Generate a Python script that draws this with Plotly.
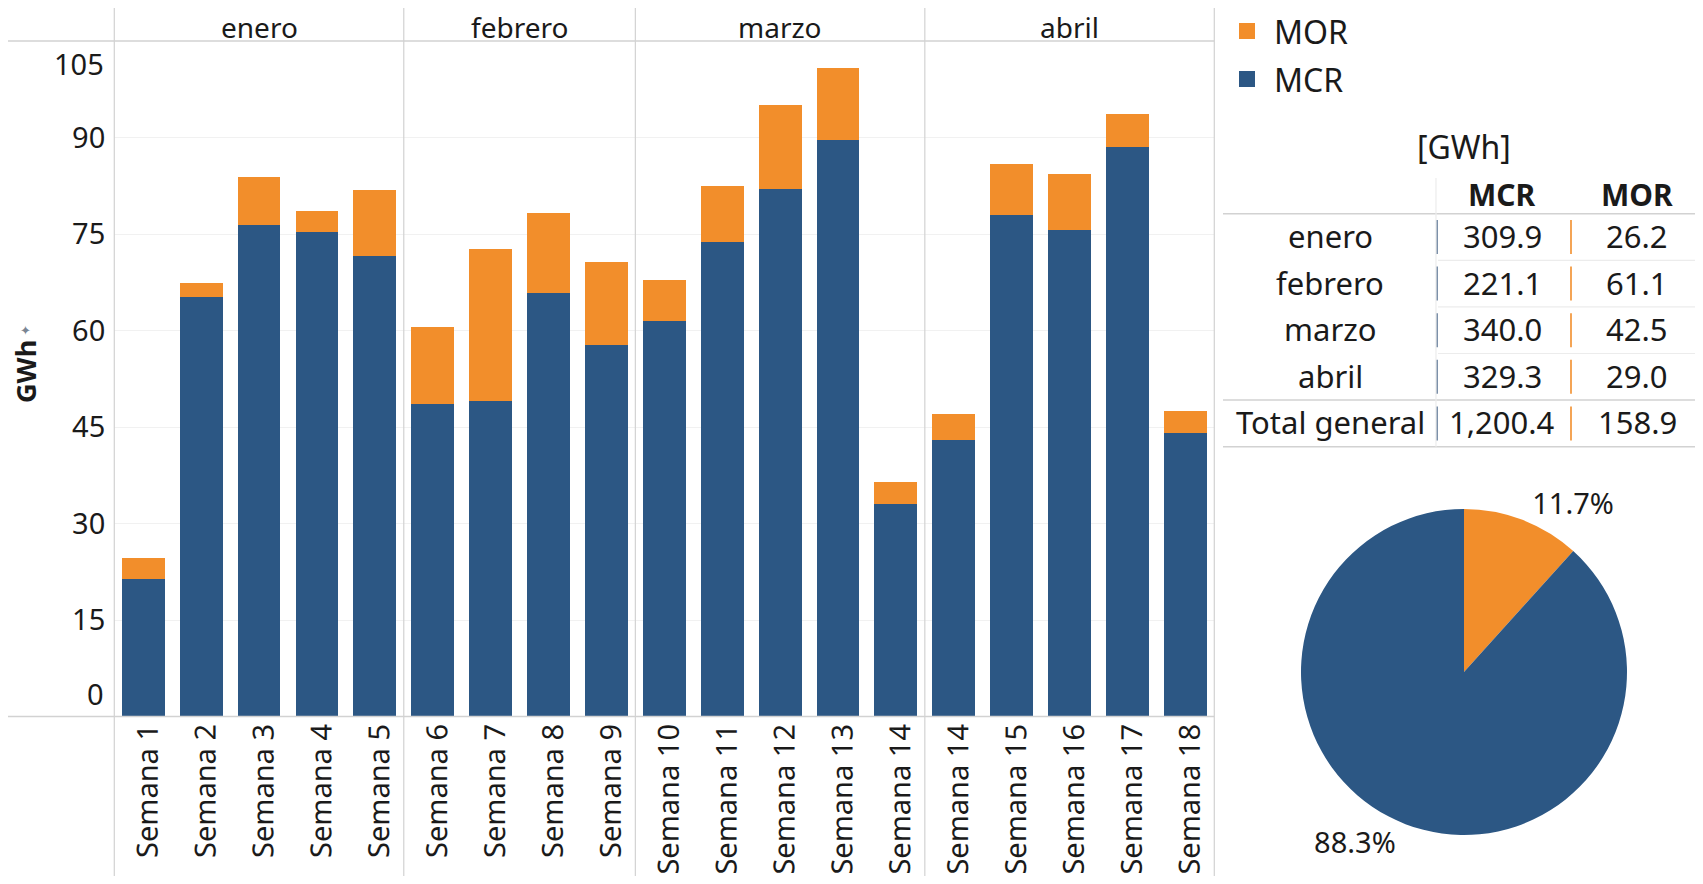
import plotly.graph_objects as go

# ---------------- data ----------------
months = ["enero", "febrero", "marzo", "abril"]
weeks = ["Semana 1", "Semana 2", "Semana 3", "Semana 4", "Semana 5",
         "Semana 6", "Semana 7", "Semana 8", "Semana 9",
         "Semana 10", "Semana 11", "Semana 12", "Semana 13", "Semana 14",
         "Semana 14", "Semana 15", "Semana 16", "Semana 17", "Semana 18"]
weeks_per_month = [5, 4, 5, 5]
mcr = [21.4, 65.2, 76.4, 75.3, 71.6,
       48.5, 49.0, 65.8, 57.8,
       61.5, 73.8, 82.0, 89.6, 33.1,
       43.0, 77.9, 75.7, 88.6, 44.1]
mor = [3.2, 2.2, 7.4, 3.2, 10.2,
       12.1, 23.6, 12.5, 12.9,
       6.3, 8.6, 13.0, 11.2, 3.4,
       4.0, 8.0, 8.6, 5.0, 3.4]
y_ticks = [0, 15, 30, 45, 60, 75, 90, 105]

table_mcr = [309.9, 221.1, 340.0, 329.3]
table_mor = [26.2, 61.1, 42.5, 29.0]
total_mcr = 1200.4
total_mor = 158.9

series_names = ["MOR", "MCR"]          # legend order (top to bottom)

# ---------------- style ----------------
PAGE_W, PAGE_H = 1703, 884
OFF = 8  # page body margin
W, H = PAGE_W - 2 * OFF, PAGE_H - 2 * OFF   # figure fits the window exactly
BLUE = "#2c5784"
ORANGE = "#f28e2b"
COLORS = {"MOR": ORANGE, "MCR": BLUE}
FONT = "Noto Sans"
TXT = "#1a1a1a"
LINE = "#d2d2d2"
LIGHT = "#ececec"


def px(xp):
    """page x pixel -> paper fraction"""
    return (xp - OFF) / W


def py(yp):
    """page y pixel -> paper fraction"""
    return 1 - (yp - OFF) / H


def note(x, y, text, size, **kw):
    d = dict(x=x, y=y, xref="paper", yref="paper", text=text, showarrow=False,
             xanchor="center", yanchor="middle",
             font=dict(size=size, family=FONT, color=TXT))
    d.update(kw)
    return d


x_idx = list(range(len(weeks)))

fig = go.Figure()
fig.add_trace(go.Bar(x=x_idx, y=mcr, name="MCR", marker=dict(color=BLUE, line=dict(width=0)),
                     width=0.74, showlegend=False))
fig.add_trace(go.Bar(x=x_idx, y=mor, name="MOR", marker=dict(color=ORANGE, line=dict(width=0)),
                     width=0.74, showlegend=False))

fig.add_trace(go.Pie(values=[total_mor, total_mcr], labels=["MOR", "MCR"],
                     marker=dict(colors=[ORANGE, BLUE], line=dict(width=0)),
                     sort=False, direction="clockwise", rotation=0,
                     textposition="outside", texttemplate="%{percent:.1%}",
                     textfont=dict(size=29, color=TXT, family=FONT),
                     showlegend=False, hoverinfo="label+value+percent",
                     domain=dict(x=[px(1301), px(1627)], y=[py(835), py(509)])))

shapes = []
annotations = []

# ---------------- legend (drawn) ----------------
leg_y0, leg_dy = 31, 48
for k, name in enumerate(series_names):
    yc = leg_y0 + k * leg_dy
    shapes.append(dict(type="rect", xref="paper", yref="paper",
                       x0=px(1239), x1=px(1255), y0=py(yc - 8), y1=py(yc + 8),
                       fillcolor=COLORS[name], line=dict(width=0)))
    annotations.append(note(px(1272), py(yc), name, 32, xanchor="left"))

# plot-area frame lines
top_px, header_px, base_px = 6, 41, 716.5
left_px, right_px = 114.3, 1214.3
for yy in (header_px, base_px):
    shapes.append(dict(type="line", xref="paper", yref="paper", x0=px(8), x1=px(right_px),
                       y0=py(yy), y1=py(yy), line=dict(color=LINE, width=1.5)))
for xp_ in (left_px, right_px):
    shapes.append(dict(type="line", xref="paper", yref="paper", x0=px(xp_), x1=px(xp_),
                       y0=-0.05, y1=py(top_px), line=dict(color=LINE, width=1.2)))

# month dividers and headers
start = 0
for i, (m, n) in enumerate(zip(months, weeks_per_month)):
    center = start + (n - 1) / 2
    annotations.append(dict(x=center, y=py(27), xref="x", yref="paper", text=m,
                            showarrow=False, font=dict(size=28, family=FONT, color=TXT),
                            xanchor="center", yanchor="middle", borderpad=0))
    if i > 0:
        shapes.append(dict(type="line", xref="x", yref="paper", x0=start - 0.5, x1=start - 0.5,
                           y0=-0.05, y1=py(top_px), line=dict(color=LINE, width=1.2)))
    start += n

# y tick labels for the two edge ticks (shifted inward like the original)
for v in (y_ticks[0], y_ticks[-1]):
    annotations.append(dict(x=px(106), y=v, xref="paper", yref="y", text=str(v),
                            showarrow=False, xanchor="right", yanchor="middle",
                            yshift=23 if v == y_ticks[0] else -22,
                            font=dict(size=29, family=FONT, color=TXT)))

# y axis title
annotations.append(note(px(25), py(372), "<b>GWh</b>", 27, textangle=-90))
annotations.append(note(px(25), py(330), "✦", 13,
                        font=dict(size=13, family="DejaVu Sans", color="#7a8593")))

# ---------------- table ----------------
annotations.append(note(px(1464), py(146), "[GWh]", 32))
col_label_x, col_mcr_x, col_mor_x = 1330, 1502, 1637
hdr_y = 195
annotations.append(note(px(col_mcr_x), py(hdr_y), "<b>MCR</b>", 30))
annotations.append(note(px(col_mor_x), py(hdr_y), "<b>MOR</b>", 30))

row_labels = months + ["Total general"]
row_mcr = table_mcr + [total_mcr]
row_mor = table_mor + [total_mor]
row0, row_h = 237, 46.6
for r, (lab, a, b) in enumerate(zip(row_labels, row_mcr, row_mor)):
    yc = row0 + r * row_h
    for xx, t in ((col_label_x, lab), (col_mcr_x, f"{a:,.1f}"), (col_mor_x, f"{b:,.1f}")):
        annotations.append(note(px(xx), py(yc), t, 31, yshift=1))
    shapes.append(dict(type="line", xref="paper", yref="paper", x0=px(1437), x1=px(1437),
                       y0=py(yc - 17), y1=py(yc + 17), line=dict(color="#5b7494", width=1.6)))
    shapes.append(dict(type="line", xref="paper", yref="paper", x0=px(1571), x1=px(1571),
                       y0=py(yc - 17), y1=py(yc + 17), line=dict(color=ORANGE, width=1.6)))
    if 0 < r < len(months):
        shapes.append(dict(type="line", xref="paper", yref="paper", x0=px(1438), x1=1.01,
                           y0=py(yc - row_h / 2), y1=py(yc - row_h / 2),
                           line=dict(color=LIGHT, width=1.2)))

tbl_top = 178
tbl_bot = row0 + (len(row_labels) - 0.5) * row_h
hdr_line = row0 - row_h / 2
tot_line = row0 + (len(months) - 0.5) * row_h
for yy in (hdr_line, tot_line, tbl_bot):
    shapes.append(dict(type="line", xref="paper", yref="paper", x0=px(1223), x1=1.01,
                       y0=py(yy), y1=py(yy), line=dict(color=LINE, width=1.5)))
shapes.append(dict(type="line", xref="paper", yref="paper", x0=px(1436), x1=px(1436),
                   y0=py(tbl_bot), y1=py(tbl_top), line=dict(color=LIGHT, width=1.2)))

fig.update_layout(
    width=W, height=H,
    margin=dict(l=0, r=0, t=0, b=0, autoexpand=False),
    paper_bgcolor="white", plot_bgcolor="white",
    barmode="stack", bargap=0.26,
    font=dict(family=FONT, color=TXT),
    showlegend=False,
    xaxis=dict(domain=[px(left_px), px(right_px)], range=[-0.5, len(weeks) - 0.5],
               tickmode="array", tickvals=x_idx, ticktext=weeks, tickangle=-89.9,
               tickfont=dict(size=29, family=FONT, color=TXT), showgrid=False,
               zeroline=False, showline=False, ticks="", ticklabelstandoff=-8,
               fixedrange=True),
    yaxis=dict(domain=[py(base_px), py(header_px)], range=[y_ticks[0], y_ticks[-1]],
               tickmode="array", tickvals=y_ticks[1:-1],
               tickfont=dict(size=29, family=FONT, color=TXT),
               showgrid=True, gridcolor="#f1f1f1", gridwidth=1,
               zeroline=False, showline=False, ticks="", ticklabelstandoff=8,
               fixedrange=True),
    shapes=shapes, annotations=annotations,
)

fig.write_html("out.html")
